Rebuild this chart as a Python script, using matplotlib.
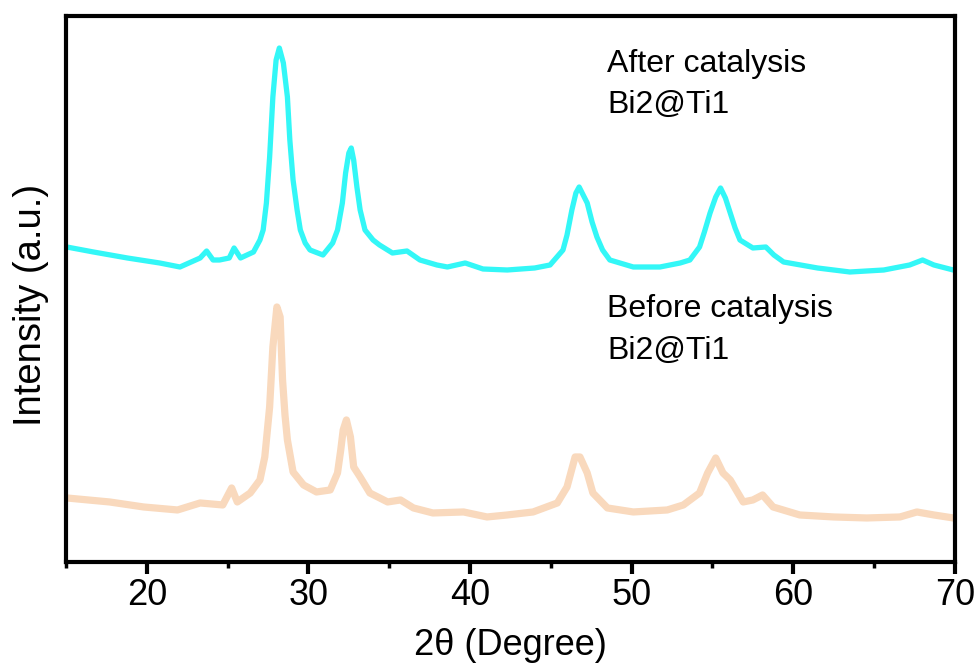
import matplotlib
matplotlib.use('Agg')
import matplotlib.pyplot as plt
from matplotlib.ticker import MultipleLocator

plt.rcParams['font.family'] = ['Liberation Sans', 'DejaVu Sans']

# After catalysis Bi2@Ti1 (cyan, upper trace)
after_x = [15.05, 16.7, 18.8, 20.8, 22.05, 23.3, 23.7, 24.1, 24.5, 25.1, 25.4, 25.8,
           26.6, 27.0, 27.2, 27.4, 27.6, 27.8, 28.0, 28.2, 28.45, 28.7, 28.85, 29.05,
           29.3, 29.5, 29.8, 30.1, 30.9, 31.5, 31.8, 32.1, 32.3, 32.5, 32.65, 32.8,
           33.0, 33.2, 33.5, 34.0, 34.4, 35.2, 36.1, 36.9, 37.95, 38.6, 39.7, 40.8,
           42.3, 44.0, 44.95, 45.75, 46.0, 46.3, 46.55, 46.75, 47.0, 47.25, 47.55,
           47.85, 48.2, 48.65, 50.1, 51.75, 53.0, 53.6, 54.2, 54.5, 54.85, 55.2, 55.5,
           55.8, 56.1, 56.4, 56.7, 57.5, 58.3, 58.8, 59.4, 61.5, 63.5, 65.6, 67.2,
           68.0, 68.7, 69.9]
after_y = [320, 315, 309, 304, 300, 309, 316, 307, 307, 309, 319, 309,
           315, 327, 337, 364, 410, 470, 507, 519, 504, 470, 427, 387,
           357, 337, 324, 317, 312, 324, 337, 364, 394, 414, 419, 407,
           380, 357, 337, 327, 322, 314, 316, 307, 302, 300, 304, 298,
           297, 299, 302, 317, 332, 357, 374, 380, 372, 364, 345,
           330, 317, 307, 300, 300, 304, 307, 320, 335, 354, 370, 379,
           369, 354, 339, 327, 319, 320, 312, 305, 299, 295, 297, 302,
           307, 302, 297]

# Before catalysis Bi2@Ti1 (peach, lower trace)
before_x = [15.05, 17.7, 19.8, 21.9, 23.3, 24.7, 25.25, 25.6, 26.4, 27.0, 27.3, 27.6,
            27.8, 28.05, 28.25, 28.4, 28.55, 28.7, 29.05, 29.7, 30.5, 31.35, 31.8,
            32.0, 32.15, 32.35, 32.6, 32.8, 33.2, 33.8, 34.9, 35.7, 36.5, 37.7, 39.6,
            41.05, 42.3, 43.9, 45.4, 46.0, 46.5, 46.8, 47.25, 47.6, 48.5, 50.1, 52.2,
            53.2, 54.2, 54.7, 55.2, 55.65, 56.1, 56.9, 57.5, 58.1, 58.75, 60.4, 62.5,
            64.55, 66.6, 67.65, 68.7, 69.9]
before_y = [69, 65, 60, 57, 64, 62, 79, 65, 74, 87, 110, 160,
            220, 260, 250, 187, 152, 127, 95, 82, 75, 77, 94,
            117, 137, 147, 130, 100, 90, 74, 65, 67, 59, 54, 55,
            50, 52, 55, 64, 80, 110, 110, 94, 74, 59, 55, 57,
            62, 74, 94, 109, 94, 87, 65, 67, 72, 60, 52, 50,
            49, 50, 55, 52, 49]

fig = plt.figure(figsize=(9.79, 6.69), dpi=100)
ax = fig.add_axes([0.0674, 0.16, 0.908, 0.8168])

ax.plot(before_x, before_y, color='#F9D9BD', linewidth=5.2)
ax.plot(after_x, after_y, color='#33F7F7', linewidth=3.8)

ax.set_xlim(15, 70)
ax.set_ylim(5, 551.5)

ax.xaxis.set_major_locator(MultipleLocator(10))
ax.xaxis.set_minor_locator(MultipleLocator(5))
ax.tick_params(axis='x', which='major', direction='out', length=8.5, width=3,
               labelsize=26, pad=3)
ax.tick_params(axis='x', which='minor', direction='out', length=4, width=2.5)
ax.tick_params(axis='y', which='both', left=False, labelleft=False)
for s in ax.spines.values():
    s.set_linewidth(3)

ax.set_xlabel('2θ (Degree)', fontsize=26, labelpad=11)
ax.set_ylabel('Intensity (a.u.)', fontsize=27.5, labelpad=12)
ax.yaxis.label.set_y(0.47)

ax.text(0.6086, 0.939, 'After catalysis\nBi2@Ti1', transform=ax.transAxes,
        fontsize=23, ha='left', va='top', linespacing=1.5)
ax.text(0.6086, 0.49, 'Before catalysis\nBi2@Ti1', transform=ax.transAxes,
        fontsize=23, ha='left', va='top', linespacing=1.5)

plt.savefig('out.png', dpi=100)
